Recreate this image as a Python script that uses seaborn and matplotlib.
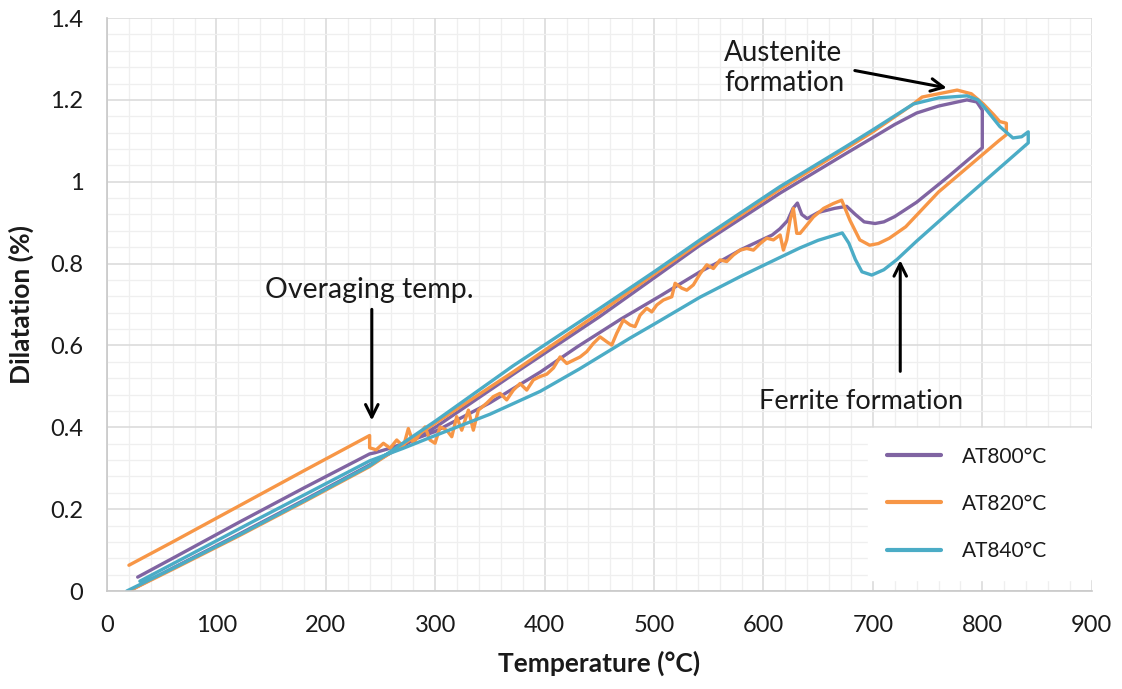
import matplotlib
matplotlib.use("Agg")
import matplotlib.pyplot as plt
from matplotlib.ticker import MultipleLocator, FixedLocator
import seaborn as sns
import pandas as pd

# ---------------- data ----------------
series_names = ["AT800°C", "AT820°C", "AT840°C"]
series_colors = ["#8064A2", "#F79646", "#4BACC6"]

t_at800 = [20, 60, 120, 180, 240, 300, 377, 450, 500, 542, 615, 676, 700, 720, 740, 760, 786, 795, 800,
           800, 770, 740, 720, 710, 702, 692, 684, 676, 665, 650, 640, 635, 631, 627, 622, 615, 608, 600,
           580, 560, 542, 505, 470, 430, 396, 350, 300, 260, 245, 240,
           180, 120, 60, 28]
d_at800 = [0.0, 0.056, 0.138, 0.222, 0.308, 0.40, 0.54, 0.67, 0.765, 0.845, 0.972, 1.07, 1.108, 1.14, 1.168, 1.185, 1.2, 1.195, 1.175,
           1.083, 1.015, 0.95, 0.915, 0.902, 0.898, 0.902, 0.92, 0.94, 0.935, 0.925, 0.91, 0.92, 0.948, 0.935, 0.905, 0.885, 0.87, 0.86,
           0.835, 0.805, 0.78, 0.72, 0.665, 0.597, 0.535, 0.46, 0.39, 0.35, 0.338, 0.335,
           0.252, 0.167, 0.08, 0.034]

t_at820 = [20, 60, 120, 180, 240, 300, 371, 450, 500, 542, 615, 676, 700, 737, 745, 760, 777, 790, 801, 810, 816, 822,
           822, 815, 760, 730, 715, 705, 697, 688, 679, 671.5, 664, 655, 645.6, 639.6, 633.5, 630.4, 627.3, 624.3,
           621.3, 618.2, 615.2, 609.1, 603, 596.9, 590.8, 584.7, 578.6, 572.5, 566.4, 560.3, 554.2, 548.2, 542,
           535.9, 529.9, 525.3, 519.2, 516.2, 508.5, 502.5, 497.9, 493.3, 487.2, 482.6, 478.1, 471.9, 465.9, 461.3,
           456.8, 450.6, 444.5, 438.5, 432.4, 420.2, 414.1, 408, 402, 395.8, 389.7, 383.6, 377.5, 371.4, 365.3,
           359.2, 353.1, 347, 339.4, 334.8, 330.3, 324.2, 319.6, 315.1, 310.5, 304.4, 299.8, 295.2, 290.7, 286.1,
           280, 275.4, 270.9, 264.8, 258.7, 252.6, 246, 240,
           240, 180, 120, 60, 20]
d_at820 = [0.0, 0.053, 0.134, 0.218, 0.304, 0.41, 0.535, 0.68, 0.774, 0.852, 0.982, 1.082, 1.122, 1.19, 1.207, 1.215, 1.224, 1.215, 1.19, 1.165, 1.147, 1.143,
           1.115, 1.1, 0.975, 0.89, 0.862, 0.849, 0.845, 0.858, 0.906, 0.955, 0.947, 0.935, 0.914, 0.894, 0.874, 0.874, 0.935, 0.906,
           0.858, 0.833, 0.870, 0.858, 0.862, 0.849, 0.833, 0.837, 0.833, 0.821, 0.805, 0.809, 0.788, 0.797, 0.775,
           0.748, 0.735, 0.740, 0.752, 0.719, 0.711, 0.699, 0.682, 0.691, 0.674, 0.646, 0.650, 0.662, 0.630, 0.601,
           0.609, 0.621, 0.605, 0.585, 0.572, 0.556, 0.572, 0.545, 0.53, 0.524, 0.516, 0.491, 0.507, 0.491, 0.467,
           0.483, 0.475, 0.459, 0.442, 0.393, 0.442, 0.393, 0.426, 0.377, 0.393, 0.401, 0.361, 0.369, 0.401, 0.385,
           0.361, 0.397, 0.353, 0.369, 0.349, 0.361, 0.345, 0.35,
           0.38, 0.294, 0.207, 0.12, 0.063]

t_at840 = [18, 60, 120, 180, 240, 300, 371, 450, 500, 542, 615, 676, 700, 737, 760, 786, 796, 804, 816, 828, 836, 842,
           842, 780, 740, 722, 710, 699, 690, 684, 678, 672, 650, 633, 615, 580, 542, 500, 478, 432, 396, 350, 300,
           270, 250, 240,
           130, 30]
d_at840 = [0.0, 0.055, 0.136, 0.22, 0.306, 0.415, 0.55, 0.69, 0.78, 0.858, 0.988, 1.087, 1.127, 1.19, 1.205, 1.21, 1.2, 1.175, 1.135, 1.107, 1.11, 1.122,
           1.095, 0.95, 0.855, 0.81, 0.785, 0.772, 0.78, 0.81, 0.85, 0.875, 0.857, 0.838, 0.815, 0.77, 0.718, 0.652, 0.618, 0.543, 0.488, 0.432, 0.38,
           0.348, 0.328, 0.318,
           0.165, 0.024]

x_ticks = [0, 100, 200, 300, 400, 500, 600, 700, 800, 900]
y_ticks = [0, 0.2, 0.4, 0.6, 0.8, 1.0, 1.2, 1.4]
y_tick_labels = ["0", "0.2", "0.4", "0.6", "0.8", "1", "1.2", "1.4"]

# ---------------- build frame ----------------
frames = []
for name, tt, dd in zip(series_names, [t_at800, t_at820, t_at840], [d_at800, d_at820, d_at840]):
    frames.append(pd.DataFrame({"T": tt, "D": dd, "series": name, "order": range(len(tt))}))
df = pd.concat(frames, ignore_index=True)

# ---------------- plot ----------------
sns.set_style("white")
plt.rcParams["font.family"] = ["Lato", "DejaVu Sans"]
text_color = "#1a1a1a"

fig = plt.figure(figsize=(11.22, 6.89), dpi=100)
ax = fig.add_axes([0.0954, 0.1422, 0.8776, 0.8316])

sns.lineplot(data=df, x="T", y="D", hue="series", hue_order=series_names,
             palette=series_colors, sort=False, estimator=None, units="series",
             lw=2.4, ax=ax, legend=True)

ax.set_xlim(0, 900)
ax.set_ylim(0, 1.4)
ax.xaxis.set_major_locator(FixedLocator(x_ticks))
ax.yaxis.set_major_locator(FixedLocator(y_ticks))
ax.set_yticklabels(y_tick_labels)
ax.xaxis.set_minor_locator(MultipleLocator(20))
ax.yaxis.set_minor_locator(MultipleLocator(0.04))
ax.set_axisbelow(True)
ax.grid(which="major", color="#d9d9d9", lw=1.1)
ax.grid(which="minor", color="#efefef", lw=0.9)

for side in ["top", "right"]:
    ax.spines[side].set_visible(False)
for side in ["left", "bottom"]:
    ax.spines[side].set_color("#c8c8c8")
    ax.spines[side].set_linewidth(1.2)

ax.tick_params(which="major", direction="out", length=7, width=1.1, color="#c8c8c8",
               labelsize=17, labelcolor=text_color, pad=10)
ax.tick_params(which="minor", length=0)

ax.set_xlabel("Temperature (°C)", fontsize=19, fontweight="bold", color=text_color, labelpad=11)
ax.set_ylabel("Dilatation (%)", fontsize=19, fontweight="bold", color=text_color, labelpad=12)

# annotations
ax.annotate("", xy=(242, 0.41), xytext=(242, 0.695),
            arrowprops=dict(arrowstyle="->,head_length=0.9,head_width=0.45", lw=2.2, color="black"))
ax.text(240, 0.735, "Overaging temp.", fontsize=20.5, ha="center", va="center", color=text_color)

ax.annotate("", xy=(770, 1.228), xytext=(681, 1.273),
            arrowprops=dict(arrowstyle="->,head_length=0.9,head_width=0.45", lw=2.2, color="black"))
ax.text(564, 1.278, "Austenite\nformation", fontsize=20, ha="left", va="center",
        color=text_color, linespacing=1.15)

ax.annotate("", xy=(725, 0.815), xytext=(725, 0.53),
            arrowprops=dict(arrowstyle="->,head_length=0.9,head_width=0.45", lw=2.2, color="black"))
ax.text(689, 0.462, "Ferrite formation", fontsize=19.5, ha="center", va="center", color=text_color)

leg = ax.legend(loc="lower left", bbox_to_anchor=(0.773, 0.02, 0.227, 0.25), mode="expand",
                frameon=True, facecolor="white", edgecolor="white", framealpha=1.0, fontsize=15,
                handlelength=2.6, handletextpad=1.0, labelspacing=1.3,
                borderpad=0.9, borderaxespad=0.0, title=None)
for line in leg.get_lines():
    line.set_linewidth(3)
for t in leg.get_texts():
    t.set_color(text_color)

fig.savefig("out.png", dpi=100, facecolor="white")
